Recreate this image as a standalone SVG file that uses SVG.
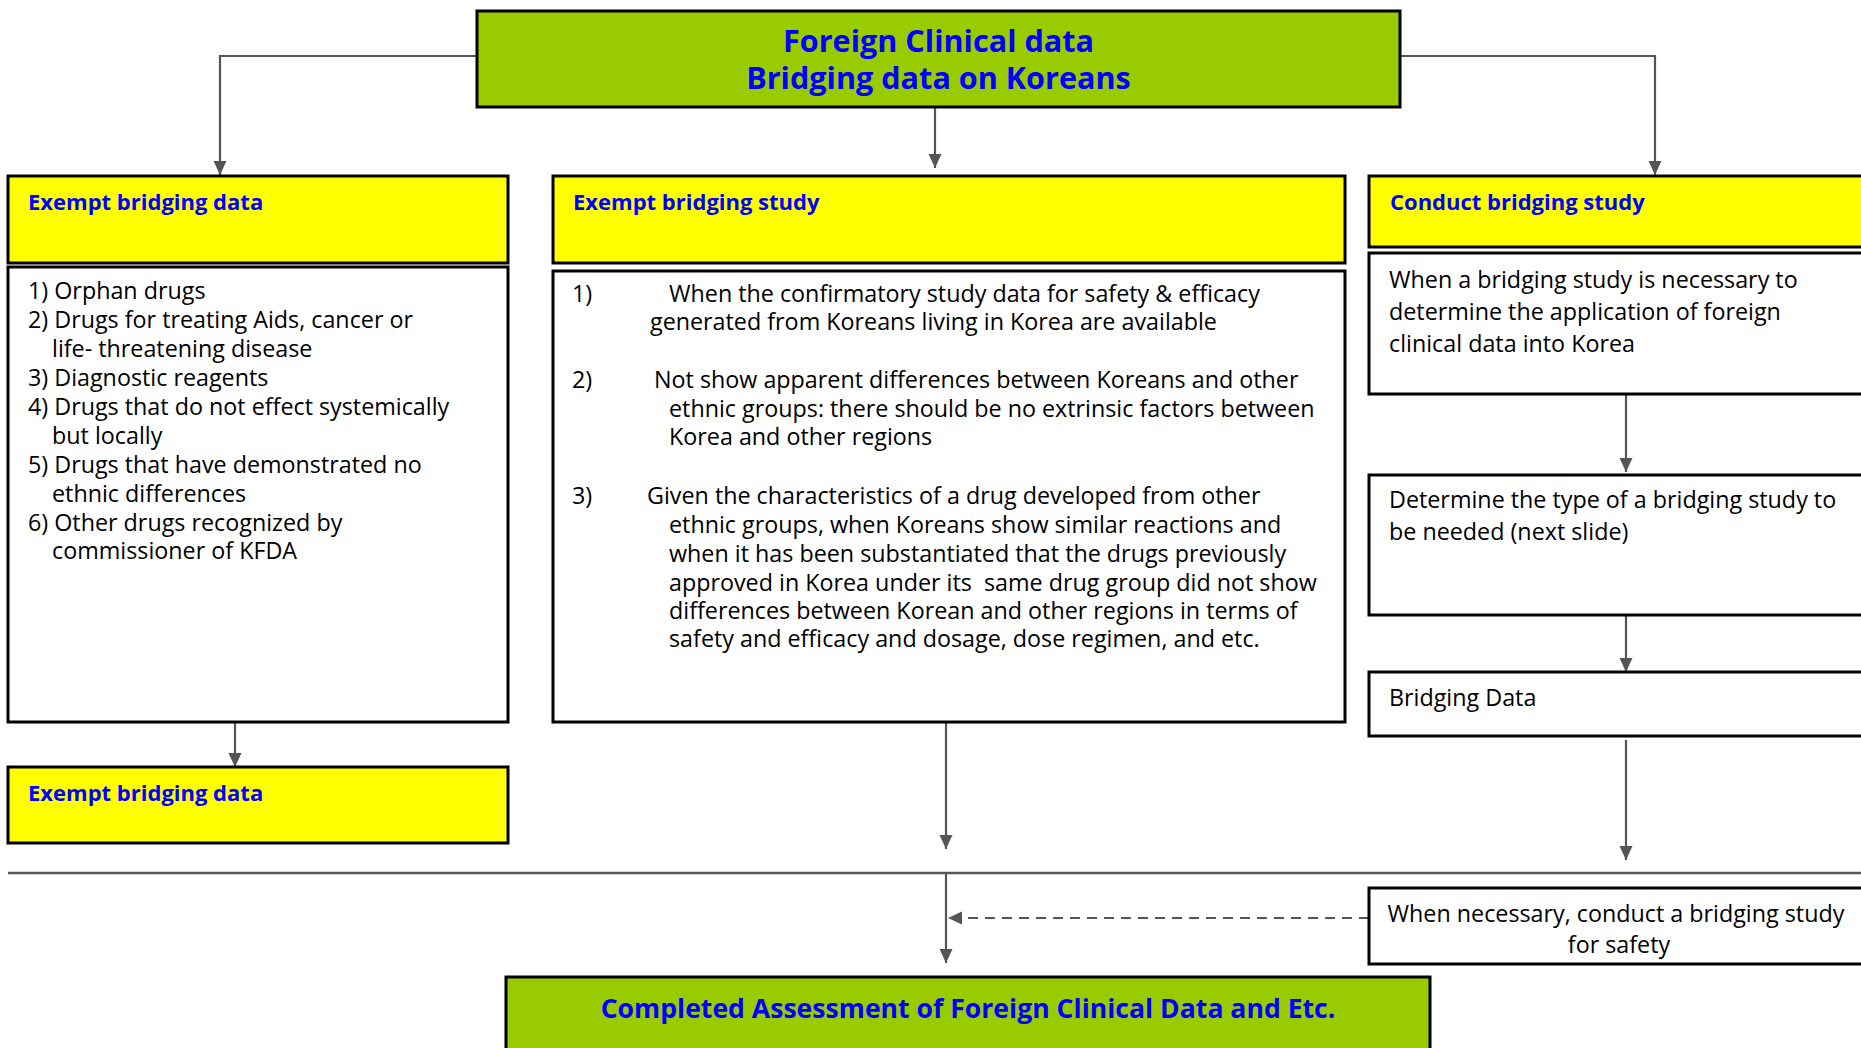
<svg xmlns="http://www.w3.org/2000/svg" width="1861" height="1048" viewBox="0 0 1861 1048">
<defs>
<marker id="ah" markerUnits="userSpaceOnUse" markerWidth="14" markerHeight="14" viewBox="0 0 14 14" refX="14" refY="7" orient="auto">
<path d="M0,0.5 L14,7 L0,13.5 Z" fill="#555559"/>
</marker>
<style>
.green{fill:#99CC00;stroke:#000;stroke-width:3}
.yellow{fill:#FFFF00;stroke:#000;stroke-width:3}
.white{fill:#FFFFFF;stroke:#000;stroke-width:3}
.hd{font-family:"Open Sans","Noto Sans",sans-serif;font-weight:bold;fill:#0000FF}
.body{font-family:"Open Sans","Noto Sans",sans-serif;font-size:23.3px;fill:#000}
.conn{fill:none;stroke:#555559;stroke-width:2.2}
</style>
</defs>
<rect width="1861" height="1048" fill="#FFFFFF"/>

<g id="connectors">
<path class="conn" d="M477,56 H220 V175" marker-end="url(#ah)"/>
<path class="conn" d="M1400,56 H1655 V175" marker-end="url(#ah)"/>
<path class="conn" d="M935,107 V168" marker-end="url(#ah)"/>
<path class="conn" d="M235,722 V767" marker-end="url(#ah)"/>
<path class="conn" d="M946,722 V849" marker-end="url(#ah)"/>
<path class="conn" d="M1626,394 V472" marker-end="url(#ah)"/>
<path class="conn" d="M1626,615 V672" marker-end="url(#ah)"/>
<path class="conn" d="M1626,740 V860" marker-end="url(#ah)"/>
<path class="conn" d="M946,873 V963" marker-end="url(#ah)"/>
<path class="conn" d="M1369,918 H948" stroke-dasharray="10,7" stroke-width="3" marker-end="url(#ah)"/>
<path d="M8,873 H1861" stroke="#555559" stroke-width="2.5" fill="none"/>
</g>

<g id="top">
<rect class="green" x="477" y="11" width="923" height="96"/>
<text class="hd" font-size="30.6" x="938.5" y="52" text-anchor="middle">Foreign Clinical data</text>
<text class="hd" font-size="30.6" x="938.5" y="89" text-anchor="middle">Bridging data on Koreans</text>
</g>

<g id="exempt-data-head">
<rect class="yellow" x="8" y="176" width="500" height="87"/>
<text class="hd" font-size="22" x="28" y="210">Exempt bridging data</text>
</g>

<g id="exempt-data-list">
<rect class="white" x="8" y="267" width="500" height="455"/>
<text class="body">
<tspan x="28" y="299">1) Orphan drugs</tspan>
<tspan x="28" y="328">2) Drugs for treating Aids, cancer or</tspan>
<tspan x="52" y="357">life- threatening disease</tspan>
<tspan x="28" y="386">3) Diagnostic reagents</tspan>
<tspan x="28" y="415">4) Drugs that do not effect systemically</tspan>
<tspan x="52" y="444">but locally</tspan>
<tspan x="28" y="473">5) Drugs that have demonstrated no</tspan>
<tspan x="52" y="502">ethnic differences</tspan>
<tspan x="28" y="531">6) Other drugs recognized by</tspan>
<tspan x="52" y="559">commissioner of KFDA</tspan>
</text>
</g>

<g id="exempt-data-result">
<rect class="yellow" x="8" y="767" width="500" height="76"/>
<text class="hd" font-size="22" x="28" y="801">Exempt bridging data</text>
</g>

<g id="exempt-study-head">
<rect class="yellow" x="553" y="176" width="792" height="87"/>
<text class="hd" font-size="22" x="573" y="210">Exempt bridging study</text>
</g>

<g id="exempt-study-list">
<rect class="white" x="553" y="271" width="792" height="451"/>
<text class="body">
<tspan x="572" y="302">1)</tspan>
<tspan x="669" y="302">When the confirmatory study data for safety &amp; efficacy</tspan>
<tspan x="650" y="330">generated from Koreans living in Korea are available</tspan>
<tspan x="572" y="388">2)</tspan>
<tspan x="654" y="388">Not show apparent differences between Koreans and other</tspan>
<tspan x="669" y="417">ethnic groups: there should be no extrinsic factors between</tspan>
<tspan x="669" y="445">Korea and other regions</tspan>
<tspan x="572" y="504">3)</tspan>
<tspan x="647" y="504">Given the characteristics of a drug developed from other</tspan>
<tspan x="669" y="533">ethnic groups, when Koreans show similar reactions and</tspan>
<tspan x="669" y="562">when it has been substantiated that the drugs previously</tspan>
<tspan x="669" y="591">approved in Korea under its &#160;same drug group did not show</tspan>
<tspan x="669" y="619">differences between Korean and other regions in terms of</tspan>
<tspan x="669" y="647">safety and efficacy and dosage, dose regimen, and etc.</tspan>
</text>
</g>

<g id="conduct-head">
<rect class="yellow" x="1369" y="176" width="500" height="71"/>
<text class="hd" font-size="22" x="1390" y="210">Conduct bridging study</text>
</g>

<g id="conduct-when">
<rect class="white" x="1369" y="253" width="500" height="141"/>
<text class="body">
<tspan x="1389" y="288">When a bridging study is necessary to</tspan>
<tspan x="1389" y="320">determine the application of foreign</tspan>
<tspan x="1389" y="352">clinical data into Korea</tspan>
</text>
</g>

<g id="conduct-type">
<rect class="white" x="1369" y="475" width="500" height="140"/>
<text class="body">
<tspan x="1389" y="508">Determine the type of a bridging study to</tspan>
<tspan x="1389" y="540">be needed (next slide)</tspan>
</text>
</g>

<g id="bridging-data">
<rect class="white" x="1369" y="672" width="500" height="64"/>
<text class="body" x="1389" y="706">Bridging Data</text>
</g>

<g id="safety-study">
<rect class="white" x="1369" y="888" width="500" height="76"/>
<text class="body" text-anchor="middle">
<tspan x="1619" y="922">When necessary, conduct a bridging study</tspan>
<tspan x="1619" y="953">for safety</tspan>
</text>
</g>

<g id="completed">
<rect class="green" x="506" y="977" width="924" height="90"/>
<text class="hd" font-size="26.6" x="968" y="1018" text-anchor="middle">Completed Assessment of Foreign Clinical Data and Etc.</text>
</g>
</svg>
